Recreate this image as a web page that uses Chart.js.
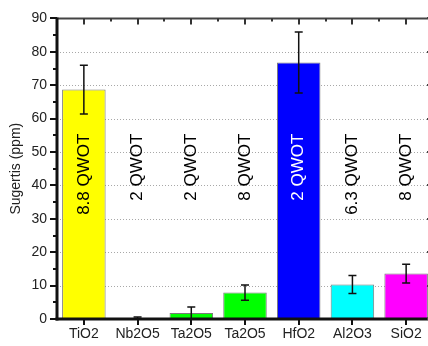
<!DOCTYPE html>
<html>
<head>
<meta charset="utf-8">
<script src="https://cdn.jsdelivr.net/npm/chart.js@4"></script>
<style>
  html, body { margin: 0; padding: 0; background: #fff; overflow: hidden; }
  #wrap { width: 436px; height: 346px; position: relative; }
</style>
</head>
<body>
<div id="wrap"><canvas id="c"></canvas></div>
<script>
const categories = ['TiO2', 'Nb2O5', 'Ta2O5', 'Ta2O5', 'HfO2', 'Al2O3', 'SiO2'];
const values = [68.7, 0.1, 1.8, 7.9, 76.8, 10.3, 13.6];
const errors = [7.3, 0.5, 1.8, 2.3, 9.1, 2.7, 2.8];
const thicknessLabels = ['8.8 QWOT', '2 QWOT', '2 QWOT', '8 QWOT', '2 QWOT', '6.3 QWOT', '8 QWOT'];
const barColors = ['#ffff00', '#9a9a9a', '#00ff00', '#00ff00', '#0000ff', '#00ffff', '#ff00ff'];
const labelColors = ['#000', '#000', '#000', '#000', '#fff', '#000', '#000'];
const yTicks = { min: 0, max: 90, major: 10, minor: 5 };
const labelAnchorValue = 55.5;

const FONT = '"Liberation Sans", Arial, sans-serif';

const decorations = {
  id: 'decorations',
  beforeDatasetsDraw(chart) {
    const ctx = chart.ctx;
    const a = chart.chartArea;
    const y = chart.scales.y;
    ctx.save();
    ctx.strokeStyle = '#a8a8a8';
    ctx.lineWidth = 1;
    ctx.setLineDash([1, 2]);
    y.ticks.forEach(t => {
      if (t.value <= yTicks.min || t.value >= yTicks.max) return;
      const py = Math.round(y.getPixelForValue(t.value)) + 0.5;
      ctx.beginPath(); ctx.moveTo(a.left, py); ctx.lineTo(a.right, py); ctx.stroke();
    });
    ctx.restore();
  },
  afterDatasetsDraw(chart) {
    const ctx = chart.ctx;
    const y = chart.scales.y;
    const meta = chart.getDatasetMeta(0);
    ctx.save();
    ctx.strokeStyle = '#111';
    ctx.lineWidth = 1.5;
    meta.data.forEach((bar, i) => {
      const cx = bar.x;
      const yt = y.getPixelForValue(values[i] + errors[i]);
      const yb = y.getPixelForValue(Math.max(0, values[i] - errors[i]));
      ctx.beginPath();
      ctx.moveTo(cx, yt); ctx.lineTo(cx, yb);
      ctx.moveTo(cx - 4, yt); ctx.lineTo(cx + 4, yt);
      ctx.moveTo(cx - 4, yb); ctx.lineTo(cx + 4, yb);
      ctx.stroke();
    });
    ctx.font = '17px ' + FONT;
    ctx.textAlign = 'right';
    ctx.textBaseline = 'middle';
    meta.data.forEach((bar, i) => {
      ctx.save();
      ctx.translate(bar.x, y.getPixelForValue(labelAnchorValue));
      ctx.rotate(-Math.PI / 2);
      ctx.fillStyle = labelColors[i];
      ctx.fillText(thicknessLabels[i], 0, 0);
      ctx.restore();
    });
    ctx.restore();
  },
  afterDraw(chart) {
    const ctx = chart.ctx;
    const a = chart.chartArea;
    const x = chart.scales.x, y = chart.scales.y;
    ctx.save();
    ctx.lineCap = 'butt';
    ctx.strokeStyle = '#444';
    ctx.lineWidth = 2;
    ctx.beginPath(); ctx.moveTo(a.left, a.top); ctx.lineTo(a.right, a.top); ctx.stroke();
    ctx.beginPath(); ctx.moveTo(a.right, a.top); ctx.lineTo(a.right, a.bottom); ctx.stroke();
    ctx.strokeStyle = '#111';
    ctx.lineWidth = 3;
    ctx.beginPath(); ctx.moveTo(a.left, a.top - 1); ctx.lineTo(a.left, a.bottom + 1.5); ctx.stroke();
    ctx.beginPath(); ctx.moveTo(a.left - 1.5, a.bottom); ctx.lineTo(a.right, a.bottom); ctx.stroke();
    ctx.lineWidth = 2;
    for (let v = yTicks.min; v <= yTicks.max; v += yTicks.minor) {
      const py = Math.round(y.getPixelForValue(v));
      const isMajor = v % yTicks.major === 0;
      const len = isMajor ? 7 : 4;
      ctx.strokeStyle = '#111';
      ctx.beginPath(); ctx.moveTo(a.left - len, py); ctx.lineTo(a.left, py); ctx.stroke();
      ctx.strokeStyle = '#444';
      ctx.beginPath(); ctx.moveTo(a.right - len + 1, py); ctx.lineTo(a.right, py); ctx.stroke();
    }
    const n = categories.length;
    for (let i = 0; i < n; i++) {
      const px = Math.round(x.getPixelForValue(i));
      ctx.strokeStyle = '#111';
      ctx.beginPath(); ctx.moveTo(px, a.bottom); ctx.lineTo(px, a.bottom + 6); ctx.stroke();
      ctx.strokeStyle = '#333';
      ctx.beginPath(); ctx.moveTo(px, a.top); ctx.lineTo(px, a.top + 6); ctx.stroke();
      if (i < n - 1) {
        const mx = Math.round(x.getPixelForValue(i + 0.5));
        ctx.beginPath(); ctx.moveTo(mx, a.top); ctx.lineTo(mx, a.top + 3); ctx.stroke();
      }
    }
    ctx.restore();
  }
};

new Chart(document.getElementById('c'), {
  type: 'bar',
  data: {
    labels: categories,
    datasets: [{
      data: values,
      backgroundColor: barColors,
      borderColor: '#7a7a7a',
      borderWidth: 1,
      barPercentage: 0.81,
      categoryPercentage: 1.0
    }]
  },
  options: {
    responsive: true,
    maintainAspectRatio: false,
    animation: false,
    devicePixelRatio: 1,
    layout: { padding: { left: 0, right: 3, top: 12, bottom: 0 } },
    plugins: { legend: { display: false }, tooltip: { enabled: false } },
    scales: {
      x: {
        type: 'category',
        grid: { display: false, drawTicks: false },
        border: { display: false },
        ticks: { color: '#222', font: { family: FONT, size: 14 }, padding: 7, maxRotation: 0, autoSkip: false },
        afterFit(s) { s.height = 27; }
      },
      y: {
        min: yTicks.min, max: yTicks.max,
        grid: { display: false, drawTicks: false },
        border: { display: false },
        ticks: {
          stepSize: yTicks.minor,
          color: '#222',
          font: { family: FONT, size: 14 },
          padding: 10,
          callback: (v) => (v % yTicks.major === 0 ? v : '')
        },
        title: {
          display: true,
          text: 'Sugertis (ppm)',
          color: '#222',
          font: { family: FONT, size: 14 },
          padding: { top: 8, bottom: 0 }
        },
        afterFit(s) { s.width = 57; }
      }
    }
  },
  plugins: [decorations]
});
</script>
</body>
</html>
